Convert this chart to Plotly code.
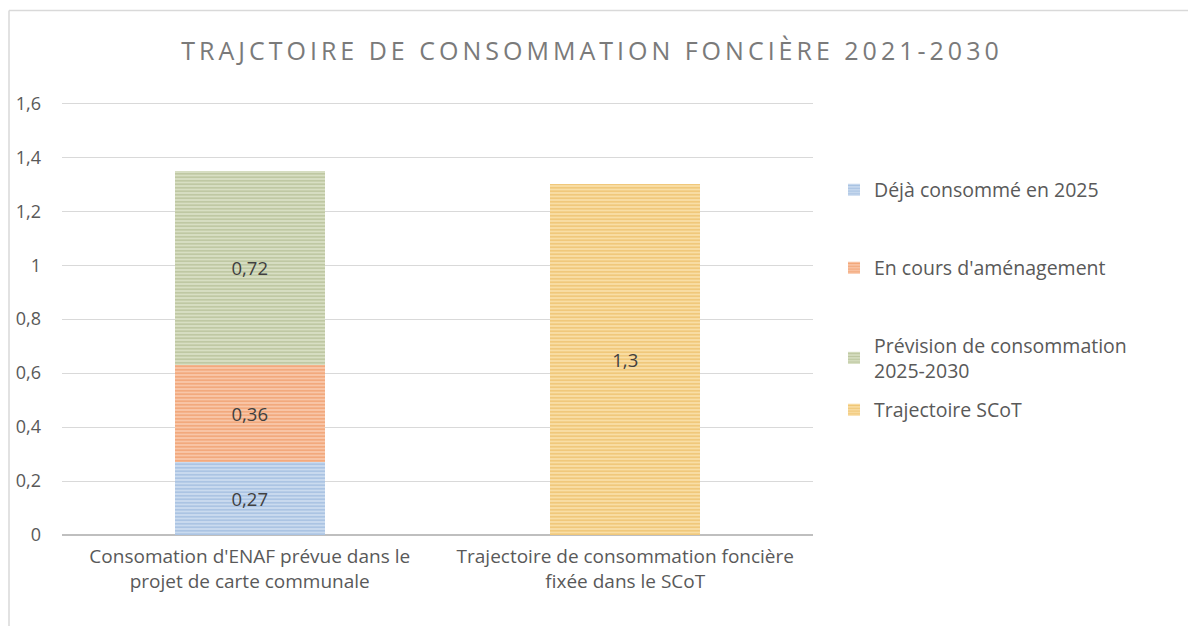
import plotly.graph_objects as go

categories = [
    "Consomation d'ENAF prévue dans le<br>projet de carte communale",
    "Trajectoire de consommation foncière<br>fixée dans le SCoT",
]
series_names = [
    "Déjà consommé en 2025",
    "En cours d'aménagement",
    "Prévision de consommation<br>2025-2030",
    "Trajectoire SCoT",
]
deja = [0.27, None]
en_cours = [0.36, None]
prevision = [0.72, None]
scot = [None, 1.3]
y_ticks = [0, 0.2, 0.4, 0.6, 0.8, 1, 1.2, 1.4, 1.6]

fg = ["#86A9D6", "#EC8648", "#A0AE7C", "#E6AE47"]
bg = ["#CADBEF", "#F8C6A8", "#D8DFC3", "#F9DEA5"]
values = [deja, en_cours, prevision, scot]

W, H = 1188, 626
L, R, T, B = 62, 375, 102, 91
pw, ph = W - L - R, H - T - B

def px_to_paper_x(px):
    return (px - L) / pw

def px_to_paper_y(py):
    return (H - B - py) / ph

legend_y_px = [190, 268, 358, 410]
legend_names = ["legend", "legend2", "legend3", "legend4"]

fig = go.Figure()
for i, (name, vals) in enumerate(zip(series_names, values)):
    fig.add_trace(go.Bar(
        x=categories,
        y=vals,
        name=name,
        legend=legend_names[i],
        width=0.4,
        marker=dict(
            color=bg[i],
            line=dict(width=0),
            pattern=dict(shape="-", fgcolor=fg[i], bgcolor=bg[i], size=3.5, solidity=0.45),
        ),
        texttemplate="%{y}",
        textposition="inside",
        insidetextanchor="middle",
        textfont=dict(color="#404040", size=18.5, family="Open Sans"),
        hoverinfo="skip",
    ))

layout_legends = {}
for i, ln in enumerate(legend_names):
    layout_legends[ln] = dict(
        x=px_to_paper_x(834),
        y=px_to_paper_y(legend_y_px[i]),
        xanchor="left",
        yanchor="middle",
        bgcolor="rgba(0,0,0,0)",
        font=dict(size=19.5, color="#595959", family="Open Sans"),
        itemwidth=30,
    )

fig.update_layout(
    width=W,
    height=H,
    margin=dict(l=L, r=R, t=T, b=B),
    paper_bgcolor="white",
    plot_bgcolor="white",
    barmode="stack",
    bargap=0.6,
    separators=", ",
    showlegend=True,
    title=dict(
        text='<span style="letter-spacing:4px">TRAJCTOIRE DE CONSOMMATION FONCIÈRE 2021-2030</span>',
        x=592 / W,
        xanchor="center",
        xref="container",
        y=1 - 51 / H,
        yref="container",
        yanchor="middle",
        font=dict(size=25, color="#7A7A7A", family="Open Sans"),
    ),
    xaxis=dict(
        showgrid=False,
        showline=False,
        tickfont=dict(size=19, color="#595959", family="Open Sans"),
        ticks="",
        ticklabelstandoff=8,
    ),
    yaxis=dict(
        range=[0, 1.605],
        tickvals=y_ticks,
        showgrid=True,
        gridcolor="#D9D9D9",
        gridwidth=1,
        zeroline=True,
        zerolinecolor="#BFBFBF",
        zerolinewidth=2,
        showline=False,
        tickfont=dict(size=18, color="#595959", family="Open Sans"),
        ticklabelstandoff=20,
    ),
    shapes=[
        dict(type="line", xref="paper", yref="paper",
             x0=px_to_paper_x(9), x1=px_to_paper_x(9),
             y0=px_to_paper_y(10.5), y1=px_to_paper_y(630),
             line=dict(color="#D9D9D9", width=1.5)),
        dict(type="line", xref="paper", yref="paper",
             x0=px_to_paper_x(9), x1=px_to_paper_x(1190),
             y0=px_to_paper_y(10.5), y1=px_to_paper_y(10.5),
             line=dict(color="#D9D9D9", width=1.5)),
    ],
    **layout_legends,
)

fig.write_html(
    "out.html",
    config={"displayModeBar": False},
    post_script="document.body.style.margin='0px';",
)
